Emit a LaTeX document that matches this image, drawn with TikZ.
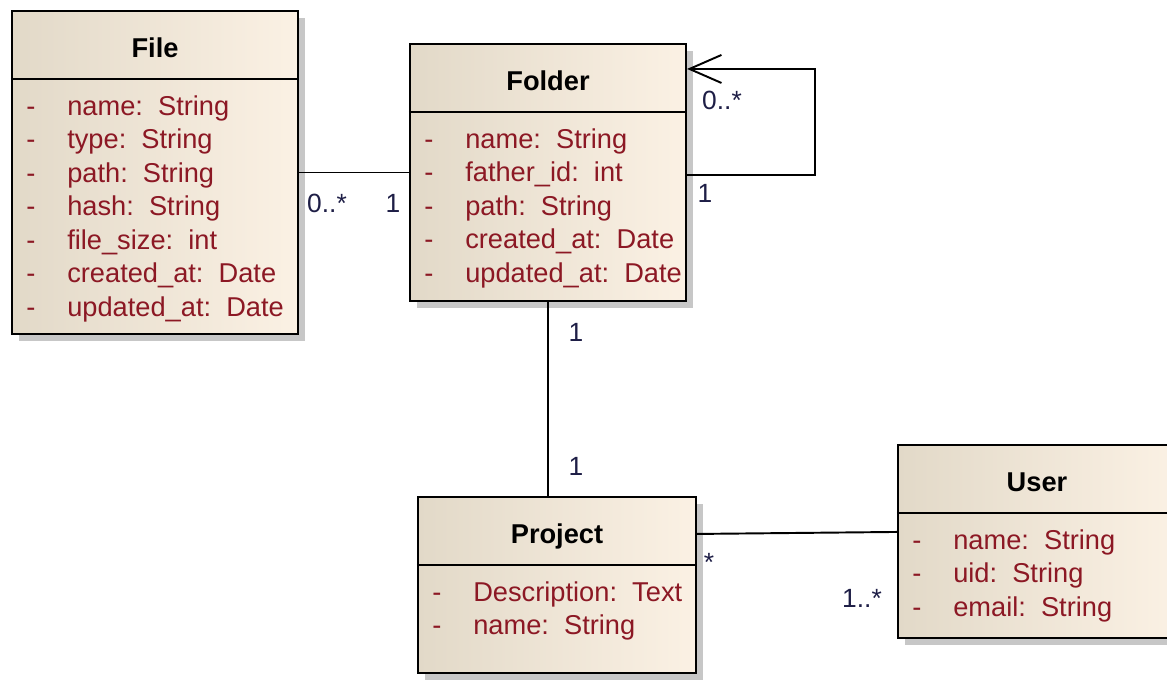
\documentclass[tikz,border=0pt]{standalone}
\usepackage{fontspec}
\setmainfont{Liberation Sans}
\usetikzlibrary{positioning}
\usetikzlibrary{arrows.meta}
\usetikzlibrary{shadows}
\definecolor{attrred}{RGB}{140,24,36}
\definecolor{multblue}{RGB}{30,30,70}
\definecolor{boxleft}{RGB}{226,217,200}
\definecolor{boxright}{RGB}{251,241,228}
\tikzset{
    classbox/.style = {rectangle, line width=1.2pt, draw=black, left color=boxleft, right color=boxright, inner sep=0pt,
                       drop shadow={shadow xshift=0.14cm, shadow yshift=-0.14cm, fill=black!22, opacity=1}},
    classname/.style = {anchor=base, inner sep=0pt, font=\fontsize{15.5}{19}\selectfont\bfseries, text=black},
    attrs/.style = {anchor=north west, inner sep=0pt, align=left, text=attrred, font=\fontsize{15.5}{19.05}\selectfont},
    mult/.style = {inner sep=1pt, font=\fontsize{15}{18}\selectfont, text=multblue},
    divline/.style = {line width=1.2pt, black},
    edgen/.style = {-, line width=1.1pt, black},
    edgeself/.style = {-{Straight Barb[length=0.64cm,width=0.56cm]}, line width=1.1pt, black}
}
\newcommand{\A}[1]{\strut\makebox[0.82cm][l]{-}#1}

\begin{document}
\begin{tikzpicture}
\useasboundingbox (0,0) rectangle (23.34,-13.62);
% classes
\node[classbox, minimum width=5.72cm, minimum height=6.46cm] at (3.10,-3.45) (file) {};
\node[classbox, minimum width=5.52cm, minimum height=5.14cm] at (10.96,-3.45) (folder) {};
\node[classbox, minimum width=5.56cm, minimum height=3.52cm] at (11.14,-11.70) (project) {};
\node[classbox, minimum width=5.56cm, minimum height=3.86cm] at (20.74,-10.83) (user) {};

\node[classname] at ([yshift=-0.96cm]file.north) (fileT) {File};
\node[classname] at ([yshift=-0.96cm]folder.north) (folderT) {Folder};
\node[classname] at ([yshift=-0.96cm]project.north) (projectT) {Project};
\node[classname] at ([yshift=-0.96cm]user.north) (userT) {User};

\draw[divline] ([yshift=-1.38cm]file.north west) -- ([yshift=-1.38cm]file.north east);
\draw[divline] ([yshift=-1.38cm]folder.north west) -- ([yshift=-1.38cm]folder.north east);
\draw[divline] ([yshift=-1.38cm]project.north west) -- ([yshift=-1.38cm]project.north east);
\draw[divline] ([yshift=-1.38cm]user.north west) -- ([yshift=-1.38cm]user.north east);

\node[attrs] at ([xshift=0.30cm,yshift=-1.63cm]file.north west) (fileA)
  {\A{name:~~String}\\ \A{type:~~String}\\ \A{path:~~String}\\ \A{hash:~~String}\\
   \A{file\_size:~~int}\\ \A{created\_at:~~Date}\\ \A{updated\_at:~~Date}};
\node[attrs] at ([xshift=0.30cm,yshift=-1.63cm]folder.north west) (folderA)
  {\A{name:~~String}\\ \A{father\_id:~~int}\\ \A{path:~~String}\\
   \A{created\_at:~~Date}\\ \A{updated\_at:~~Date}};
\node[attrs] at ([xshift=0.30cm,yshift=-1.63cm]project.north west) (projectA)
  {\A{Description:~~Text}\\ \A{name:~~String}};
\node[attrs] at ([xshift=0.30cm,yshift=-1.63cm]user.north west) (userA)
  {\A{name:~~String}\\ \A{uid:~~String}\\ \A{email:~~String}};

% associations
\draw[edgen] (file.east) -- (folder.west);
\draw[edgeself] ([yshift=-0.05cm]folder.east) -- ++(2.56,0) |- ([yshift=-0.52cm]folder.north east);
\draw[edgen] (folder.south) -- (folder.south |- project.north);
\draw[edgen] ([yshift=-0.76cm]project.north east) -- ([yshift=-1.76cm]user.north west);

% multiplicities
\node[mult] at (6.54,-4.06) (m1) {0..*};
\node[mult] at (7.86,-4.06) (m2) {1};
\node[mult] at (14.44,-2.00) (m3) {0..*};
\node[mult] at (14.10,-3.86) (m4) {1};
\node[mult] at (11.52,-6.64) (m5) {1};
\node[mult] at (11.52,-9.32) (m6) {1};
\node[mult] at (14.18,-11.24) (m7) {*};
\node[mult] at (17.24,-11.96) (m8) {1..*};

\end{tikzpicture}
\end{document}
